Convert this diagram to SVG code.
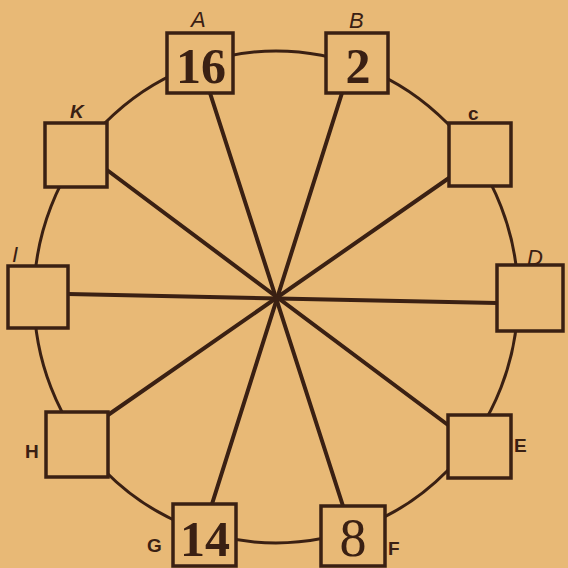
<svg xmlns="http://www.w3.org/2000/svg" width="568" height="568" viewBox="0 0 568 568">
<style>
.bg{fill:#E8B976}
.ring{fill:none;stroke:#3A2013;stroke-width:3}
.spoke{stroke:#3A2013;stroke-width:4;stroke-linecap:round}
.box{fill:#E8B976;stroke:#3A2013;stroke-width:3.5}
.lbl{font-family:"Liberation Sans",Arial,sans-serif;font-weight:bold;font-size:19px;fill:#3A2013}
.it{font-style:italic;font-weight:normal;font-size:22px}
.num{font-family:"Liberation Serif","Times New Roman",serif;font-weight:bold;font-size:50px;fill:#3A2013;text-anchor:middle}
.thin{font-weight:normal;font-size:54px}
</style>
<rect class="bg" x="0" y="0" width="568" height="568"/>
<ellipse class="ring" cx="276" cy="297" rx="242" ry="246"/>
<g id="connectors">
<line class="spoke" x1="210" y1="93" x2="343" y2="506"/>
<line class="spoke" x1="342" y1="93" x2="212" y2="504"/>
<line class="spoke" x1="107" y1="170" x2="448" y2="425"/>
<line class="spoke" x1="449" y1="178" x2="108" y2="415"/>
<line class="spoke" x1="68" y1="294" x2="497" y2="303"/>
</g>
<g id="A"><rect class="box" x="167" y="33" width="66" height="60"/><text class="num" x="201" y="83">16</text><text class="lbl it" x="191" y="27">A</text></g>
<g id="B"><rect class="box" x="326" y="33" width="62" height="60"/><text class="num" x="358" y="83">2</text><text class="lbl it" x="349" y="28">B</text></g>
<g id="C"><rect class="box" x="449" y="123" width="62" height="63"/><text class="lbl" x="468" y="120">c</text></g>
<g id="D"><rect class="box" x="497" y="265" width="66" height="66"/><text class="lbl it" x="527" y="265">D</text></g>
<g id="E"><rect class="box" x="448" y="415" width="63" height="63"/><text class="lbl" x="514" y="452">E</text></g>
<g id="F"><rect class="box" x="321" y="506" width="64" height="60"/><text class="num thin" x="353" y="556">8</text><text class="lbl" x="388" y="555">F</text></g>
<g id="G"><rect class="box" x="173" y="504" width="63" height="62"/><text class="num" x="205" y="556">14</text><text class="lbl" x="147" y="552">G</text></g>
<g id="H"><rect class="box" x="46" y="412" width="62" height="65"/><text class="lbl" x="25" y="458">H</text></g>
<g id="I"><rect class="box" x="8" y="266" width="60" height="62"/><text class="lbl it" x="12" y="262">I</text></g>
<g id="K"><rect class="box" x="45" y="123" width="62" height="64"/><text class="lbl" x="70" y="118" style="font-style:italic">K</text></g>
</svg>
